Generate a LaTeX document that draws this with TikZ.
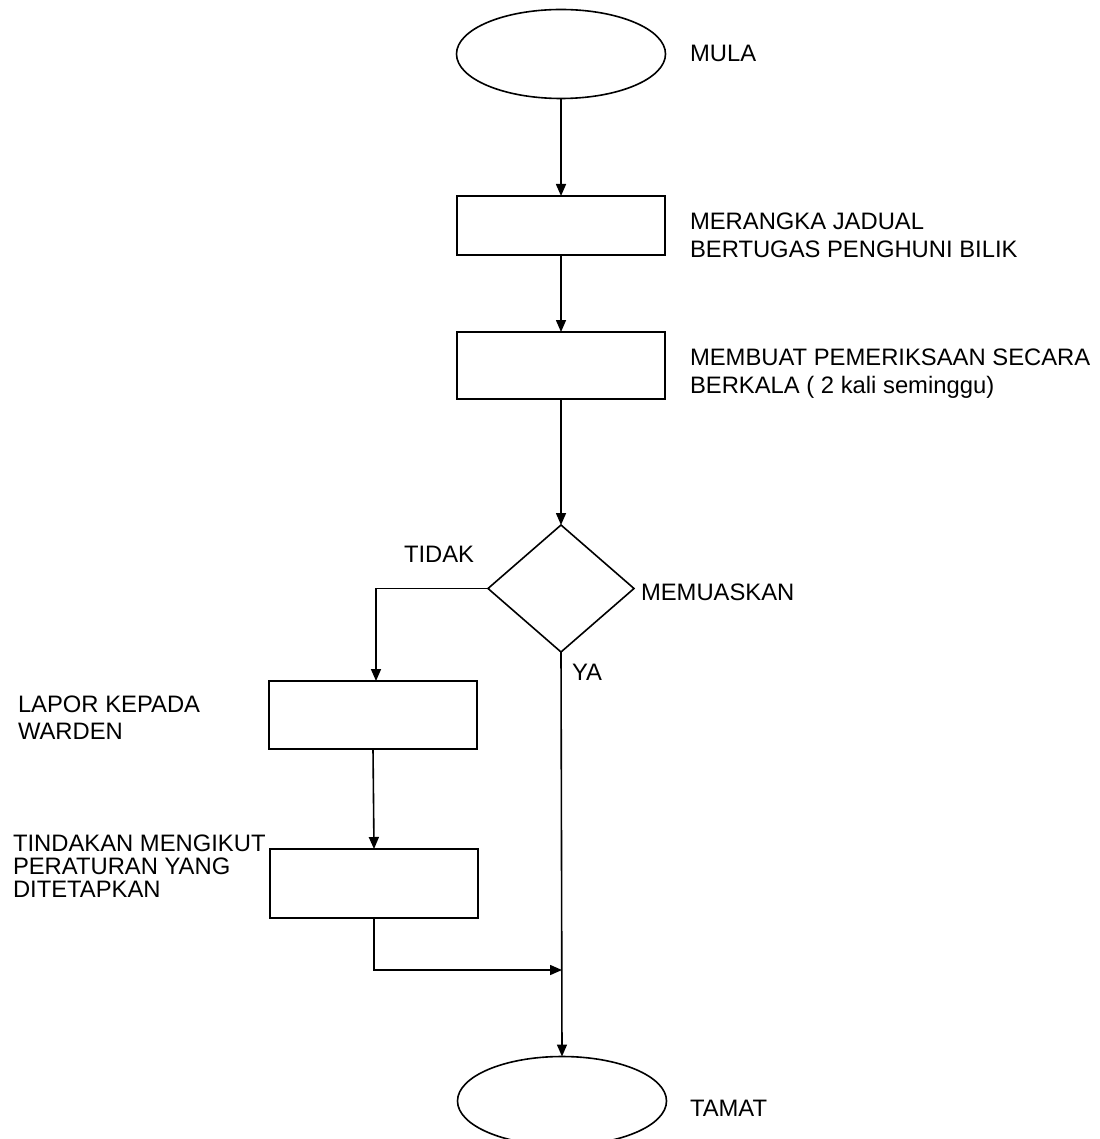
\documentclass[tikz,border=0pt]{standalone}
\usepackage{fontspec}
\setmainfont{Liberation Sans}
\usetikzlibrary{shapes.geometric,arrows.meta}

\begin{document}
\begin{tikzpicture}[x=1pt,y=-1pt,
    line width=1.6pt,
    every node/.style={inner sep=0pt, outer sep=0pt},
    terminal/.style={draw, ellipse, minimum width=209pt, minimum height=89pt},
    process/.style={draw, rectangle, minimum width=208pt},
    decision/.style={draw, diamond, minimum width=146pt, minimum height=127pt, aspect=1.15},
    label/.style={anchor=base west, font=\fontsize{23.8}{28}\selectfont, align=left},
    flow/.style={-{Triangle[length=12pt,width=10pt]}}
  ]
  \useasboundingbox (0,0) rectangle (1099,1139);
  \clip (0,0) rectangle (1099,1139);
  \fill[white] (0,0) rectangle (1099,1139);

  % shapes
  \node[terminal] (mula) at (561,54) {};
  \node[process, minimum height=59pt] (jadual) at (561,225.5) {};
  \node[process, minimum height=67pt] (periksa) at (561,365.5) {};
  \node[decision] (puas) at (561,588.5) {};
  \node[process, minimum height=68pt] (lapor) at (373,715) {};
  \node[process, minimum height=69pt] (tindakan) at (374,883.5) {};
  \node[terminal] (tamat) at (562,1101) {};
  \coordinate (gabung) at (562,970);

  % labels (multi-line labels sit on the baseline of their last line)
  \node[label] (tmula) at (690,62) {MULA};
  \node[label] (tjadual) at (690,258) {MERANGKA JADUAL\\BERTUGAS PENGHUNI BILIK};
  \node[label] (tperiksa) at (690,393) {MEMBUAT PEMERIKSAAN SECARA\\BERKALA ( 2 kali seminggu)};
  \node[label] (ttidak) at (404,562) {TIDAK};
  \node[label] (tpuas) at (641,600) {MEMUASKAN};
  \node[label] (tya) at (572,680) {YA};
  \node[label, font=\fontsize{23.8}{27}\selectfont] (tlapor) at (18,739) {LAPOR KEPADA\\WARDEN};
  \node[label, font=\fontsize{23.8}{23}\selectfont] (ttindakan) at (13,897) {TINDAKAN MENGIKUT\\PERATURAN YANG\\DITETAPKAN};
  \node[label] (ttamat) at (690,1116) {TAMAT};

  % connectors
  \draw[flow] (mula.south) -- (jadual.north);
  \draw[flow] (jadual.south) -- (periksa.north);
  \draw[flow] (periksa.south) -- (puas.north);
  \draw[flow] (puas.west) -| ([xshift=3pt]lapor.north);
  \draw[flow] (lapor.south) -- (tindakan.north);
  \draw[flow] (tindakan.south) |- (gabung);
  \draw[flow] (puas.south) -- (tamat.north);
\end{tikzpicture}
\end{document}
